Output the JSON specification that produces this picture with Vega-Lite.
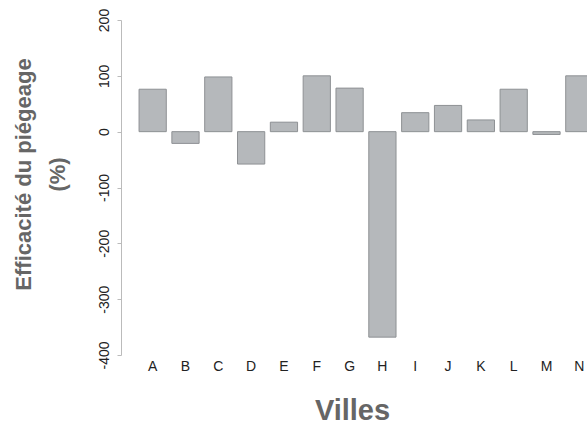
{
  "$schema": "https://vega.github.io/schema/vega-lite/v6.json",
  "autosize": "none",
  "padding": {"left": 121, "top": 20, "right": 0, "bottom": 66},
  "width": 466,
  "height": 335,
  "background": "white",
  "config": {"view": {"stroke": null}, "font": "Liberation Sans"},
  "data": {"values": [
    {"ville": "A", "eff": 76},
    {"ville": "B", "eff": -21},
    {"ville": "C", "eff": 98},
    {"ville": "D", "eff": -58},
    {"ville": "E", "eff": 17},
    {"ville": "F", "eff": 100},
    {"ville": "G", "eff": 78},
    {"ville": "H", "eff": -368},
    {"ville": "I", "eff": 34},
    {"ville": "J", "eff": 47},
    {"ville": "K", "eff": 21},
    {"ville": "L", "eff": 76},
    {"ville": "M", "eff": -5},
    {"ville": "N", "eff": 100}
  ]},
  "mark": {"type": "bar", "fill": "#b5b8bb", "stroke": "#8e9194", "strokeWidth": 1, "clip": false},
  "encoding": {
    "x": {
      "field": "ville", "type": "nominal", "sort": null,
      "scale": {"range": [0, 490], "paddingInner": 0.17, "paddingOuter": 0.55},
      "axis": {
        "title": "Villes", "labelAngle": 0, "domain": false, "ticks": false,
        "labelPadding": 4, "labelFontSize": 14, "labelColor": "#222", "labelFont": "Liberation Sans",
        "titleFontSize": 29, "titleFontWeight": "bold", "titleColor": "#666", "titleFont": "Liberation Sans",
        "titleX": 231, "titleY": 64, "titleAlign": "center", "titleBaseline": "alphabetic", "titleAnchor": null
      }
    },
    "y": {
      "field": "eff", "type": "quantitative",
      "scale": {"domain": [-400, 200], "nice": false},
      "axis": {
        "title": ["Efficacité du piégeage", "(%)"],
        "values": [-400, -300, -200, -100, 0, 100, 200],
        "labelExpr": "toString(datum.value)",
        "grid": false, "domainColor": "#bbbbbb", "tickColor": "#bbbbbb", "tickSize": 4,
        "labelAngle": 270, "labelAlign": "center", "labelBaseline": "bottom", "labelPadding": 6,
        "labelFontSize": 14, "labelColor": "#222", "labelFont": "Liberation Sans",
        "titleFontSize": 22, "titleFontWeight": "bold", "titleColor": "#666", "titleFont": "Liberation Sans",
        "titleLineHeight": 34, "titleAngle": 270, "titleAlign": "center", "titleBaseline": "middle",
        "titleX": -98, "titleY": 154, "titleAnchor": null
      }
    }
  }
}
